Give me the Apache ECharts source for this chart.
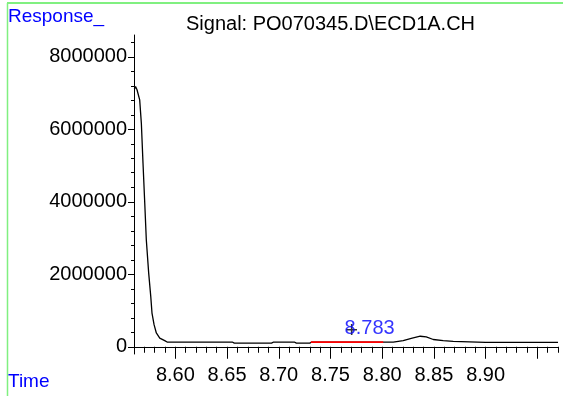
<!DOCTYPE html>
<html>
<head>
<meta charset="utf-8">
<script src="https://cdn.jsdelivr.net/npm/echarts@6/dist/echarts.min.js"></script>
<style>
html,body{margin:0;padding:0;background:#fff;}
#chart{width:563px;height:396px;}
</style>
</head>
<body>
<div id="chart"></div>
<script>
// ---- data ----
const titleText = "Signal: PO070345.D\\ECD1A.CH";
const yAxisName = "Response_";
const xAxisName = "Time";

const times = [8.5603, 8.5607, 8.5615, 8.5629, 8.5655, 8.5671, 8.5687, 8.5704, 8.5719, 8.5742, 8.5762, 8.5774, 8.5794, 8.5816, 8.5849, 8.5897, 8.5920,
  8.6200, 8.6550, 8.6570, 8.6930, 8.6950, 8.7150, 8.7170, 8.7300, 8.7320, 8.7600, 8.7900, 8.8010,
  8.8107, 8.8203, 8.8290, 8.8368, 8.8426, 8.8494, 8.8590, 8.8687, 8.8706, 8.9000, 8.9400, 8.9700];
const responses = [7100000, 7140000, 7180000, 7090000, 6810000, 6170000, 5070000, 3960000, 2950000, 2030000, 1390000, 930000, 610000, 380000, 240000, 170000, 130000,
  130000, 130000, 100000, 100000, 130000, 130000, 100000, 100000, 130000, 130000, 130000, 130000,
  130000, 170000, 240000, 290000, 270000, 200000, 170000, 150000, 120000, 120000, 120000, 120000];

const baselineTimes = [8.731, 8.801];
const baselineValues = [130000, 130000];

const peakTime = 8.783;
const peakValue = 130000;
const peakLabel = "8.783";
const apexTime = 8.7706;
const apexValue = 440000;

const xMajorTicks = [8.60, 8.65, 8.70, 8.75, 8.80, 8.85, 8.90, 8.95];
const xLabels = [8.60, 8.65, 8.70, 8.75, 8.80, 8.85, 8.90];
const xMinorTicks = [8.57, 8.58, 8.59, 8.61, 8.62, 8.63, 8.64, 8.66, 8.67, 8.68, 8.69, 8.71, 8.72, 8.73, 8.74,
  8.76, 8.77, 8.78, 8.79, 8.81, 8.82, 8.83, 8.84, 8.86, 8.87, 8.88, 8.89, 8.91, 8.92, 8.93, 8.94, 8.96, 8.97];
const yLabels = [0, 2000000, 4000000, 6000000, 8000000];
const yMinorTicks = [400000, 800000, 1200000, 1600000, 2400000, 2800000, 3200000, 3600000, 4400000, 4800000,
  5200000, 5600000, 6400000, 6800000, 7200000, 7600000, 8400000];

// ---- chart ----
const FONT = "'Liberation Sans', Arial, sans-serif";
const chart = echarts.init(document.getElementById('chart'), null, {renderer: 'canvas'});
const xMin = 8.56, xMax = 8.97, yMin = -200000, yMax = 8600000;

chart.setOption({
  animation: false,
  backgroundColor: '#fff',
  title: {
    text: titleText, left: 181, top: 9,
    textStyle: {fontFamily: FONT, fontSize: 20, fontWeight: 'normal', color: '#000'}
  },
  grid: {left: 134, top: 35, right: 5, bottom: 42, containLabel: false},
  xAxis: [{
    type: 'value', min: xMin, max: xMax, position: 'bottom',
    axisLine: {show: true, lineStyle: {color: '#000', width: 1}},
    axisTick: {show: true, customValues: xMajorTicks, length: 12, lineStyle: {color: '#000'}},
    axisLabel: {show: true, customValues: xLabels, margin: 11, fontFamily: FONT, fontSize: 20, color: '#000',
      formatter: v => Number(v).toFixed(2)},
    splitLine: {show: false}
  }, {
    type: 'value', min: xMin, max: xMax, position: 'bottom', offset: 0,
    axisLine: {show: false},
    axisTick: {show: true, customValues: xMinorTicks, length: 6, lineStyle: {color: '#000'}},
    axisLabel: {show: false},
    splitLine: {show: false}
  }],
  yAxis: [{
    type: 'value', min: yMin, max: yMax, position: 'left',
    axisLine: {show: true, lineStyle: {color: '#000', width: 1}},
    axisTick: {show: true, customValues: yLabels, length: 6, lineStyle: {color: '#000'}},
    axisLabel: {show: true, customValues: yLabels, margin: 7, fontFamily: FONT, fontSize: 20, color: '#000',
      formatter: v => String(Math.round(v))},
    splitLine: {show: false}
  }, {
    type: 'value', min: yMin, max: yMax, position: 'left', offset: 0,
    axisLine: {show: false},
    axisTick: {show: true, customValues: yMinorTicks, length: 3, lineStyle: {color: '#000'}},
    axisLabel: {show: false},
    splitLine: {show: false}
  }],
  series: [{
    type: 'line', xAxisIndex: 0, yAxisIndex: 0,
    data: times.map((t, i) => [t, responses[i]]),
    showSymbol: false, symbol: 'none',
    lineStyle: {color: '#000', width: 1.3}
  }, {
    type: 'line', xAxisIndex: 0, yAxisIndex: 0,
    data: baselineTimes.map((t, i) => [t, baselineValues[i]]),
    showSymbol: false, symbol: 'none',
    lineStyle: {color: '#ff0000', width: 1.8}
  }, {
    type: 'scatter', xAxisIndex: 0, yAxisIndex: 0,
    data: [[apexTime, apexValue]], symbolSize: 0,
    label: {show: true, position: 'inside', formatter: '+', fontFamily: FONT, fontSize: 22, color: '#000'}
  }, {
    type: 'scatter', xAxisIndex: 0, yAxisIndex: 0,
    data: [[peakTime, peakValue]], symbolSize: 0,
    label: {show: true, position: 'top', distance: 4, offset: [5, 0], formatter: peakLabel,
      fontFamily: FONT, fontSize: 20, color: '#0000ff'}
  }],
  graphic: [
    {type: 'line', shape: {x1: 7, y1: 3, x2: 563, y2: 3}, style: {stroke: '#80f080', lineWidth: 2}},
    {type: 'line', shape: {x1: 7.5, y1: 3, x2: 7.5, y2: 396}, style: {stroke: '#80f080', lineWidth: 1.5}},
    {type: 'text', left: 8, top: 7, style: {text: yAxisName, fontFamily: FONT, fontSize: 19, fill: '#0000ff'}},
    {type: 'text', left: 8, top: 372, style: {text: xAxisName, fontFamily: FONT, fontSize: 19, fill: '#0000ff'}}
  ]
});
</script>
</body>
</html>
